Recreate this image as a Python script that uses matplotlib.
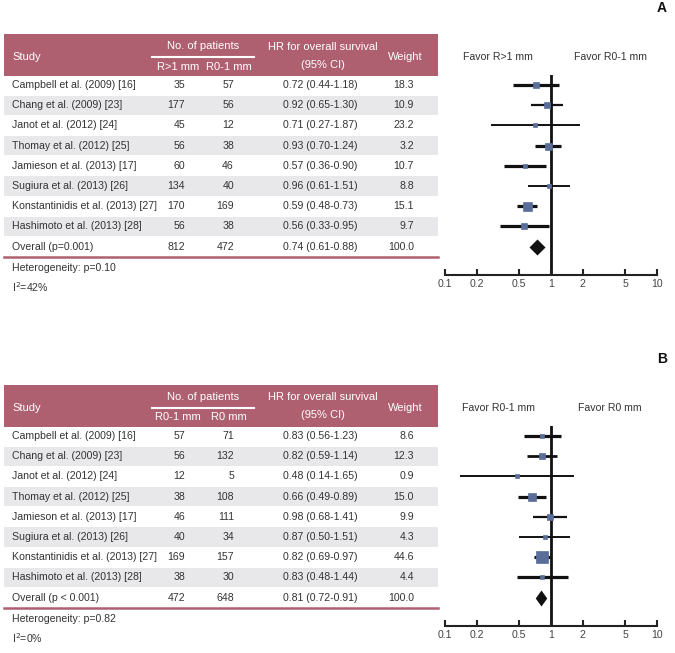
import numpy as np
import matplotlib
matplotlib.use("Agg")
import matplotlib.pyplot as plt

plt.rcParams['font.family'] = ['Liberation Sans Narrow', 'Liberation Sans', 'DejaVu Sans']

# ---- data ----
studies = ["Campbell et al. (2009) [16]", "Chang et al. (2009) [23]", "Janot et al. (2012) [24]",
           "Thomay et al. (2012) [25]", "Jamieson et al. (2013) [17]", "Sugiura et al. (2013) [26]",
           "Konstantinidis et al. (2013) [27]", "Hashimoto et al. (2013) [28]"]

# panel A
a_groups = ["R>1 mm", "R0-1 mm"]
a_n1 = [35, 177, 45, 56, 60, 134, 170, 56, 812]
a_n2 = [57, 56, 12, 38, 46, 40, 169, 38, 472]
a_hr = [0.72, 0.92, 0.71, 0.93, 0.57, 0.96, 0.59, 0.56, 0.74]
a_lo = [0.44, 0.65, 0.27, 0.70, 0.36, 0.61, 0.48, 0.33, 0.61]
a_hi = [1.18, 1.30, 1.87, 1.24, 0.90, 1.51, 0.73, 0.95, 0.88]
a_w = ["18.3", "10.9", "23.2", "3.2", "10.7", "8.8", "15.1", "9.7", "100.0"]
a_overall = "Overall (p=0.001)"
a_het = "Heterogeneity: p=0.10"
a_i2 = "42%"
a_favor = ["Favor R>1 mm", "Favor R0-1 mm"]
a_msize = [6, 5.5, 4.5, 7, 5, 5, 9, 5.5]   # square side, px
a_lw = [2.3, 1.6, 1.4, 2.3, 2.3, 1.4, 2.3, 2.3]

# panel B
b_groups = ["R0-1 mm", "R0 mm"]
b_n1 = [57, 56, 12, 38, 46, 40, 169, 38, 472]
b_n2 = [71, 132, 5, 108, 111, 34, 157, 30, 648]
b_hr = [0.83, 0.82, 0.48, 0.66, 0.98, 0.87, 0.82, 0.83, 0.81]
b_lo = [0.56, 0.59, 0.14, 0.49, 0.68, 0.50, 0.69, 0.48, 0.72]
b_hi = [1.23, 1.14, 1.65, 0.89, 1.41, 1.51, 0.97, 1.44, 0.91]
b_w = ["8.6", "12.3", "0.9", "15.0", "9.9", "4.3", "44.6", "4.4", "100.0"]
b_overall = "Overall (p < 0.001)"
b_het = "Heterogeneity: p=0.82"
b_i2 = "0%"
b_favor = ["Favor R0-1 mm", "Favor R0 mm"]
b_msize = [4.5, 6.5, 3.5, 7.5, 5.5, 5, 12.5, 4.5]
b_lw = [2.3, 2.0, 1.4, 2.3, 1.6, 1.4, 2.3, 2.3]

ticks = [0.1, 0.2, 0.5, 1, 2, 5, 10]
tick_labels = ["0.1", "0.2", "0.5", "1", "2", "5", "10"]

W, H = 675, 653
HEAD = '#AF6070'
SHADE = '#E8E8EA'
MARK = '#5B6E9A'
TXT = '#333333'

fig = plt.figure(figsize=(W / 100, H / 100), dpi=100)
bg = fig.add_axes([0, 0, 1, 1])
bg.set_xlim(0, W)
bg.set_ylim(H, 0)
bg.axis('off')

FS = 7.6
HFS = 8.0


def panel(dy, groups, n1, n2, hr, lo, hi, w, overall, het, i2, favor, msize, lws, dwidth, letter):
    pitch = 20.2
    row0 = 85 + dy
    # header band
    bg.add_patch(plt.Rectangle((4, 34 + dy), 434, 42, color=HEAD, lw=0))
    bg.text(12, 57 + dy, "Study", color='white', fontsize=HFS, va='center')
    bg.text(203, 46 + dy, "No. of patients", color='white', fontsize=HFS, va='center', ha='center')
    bg.plot([152, 254], [56.5 + dy, 56.5 + dy], color='white', lw=1.5)
    bg.text(178, 66.5 + dy, groups[0], color='white', fontsize=HFS, va='center', ha='center')
    bg.text(229, 66.5 + dy, groups[1], color='white', fontsize=HFS, va='center', ha='center')
    bg.text(323, 46.5 + dy, "HR for overall survival", color='white', fontsize=HFS, va='center', ha='center')
    bg.text(323, 64.5 + dy, "(95% CI)", color='white', fontsize=HFS, va='center', ha='center')
    bg.text(405, 57 + dy, "Weight", color='white', fontsize=HFS, va='center', ha='center')

    names = studies + [overall]
    for i, name in enumerate(names):
        y = row0 + i * pitch
        if i % 2 == 1:
            bg.add_patch(plt.Rectangle((4, y - pitch / 2 + 0.5), 434, pitch - 1, color=SHADE, lw=0))
        bg.text(12, y, name, color=TXT, fontsize=FS, va='center')
        bg.text(185, y, str(n1[i]), color=TXT, fontsize=FS, va='center', ha='right')
        bg.text(234, y, str(n2[i]), color=TXT, fontsize=FS, va='center', ha='right')
        bg.text(320, y, f"{hr[i]:.2f} ({lo[i]:.2f}-{hi[i]:.2f})", color=TXT, fontsize=FS, va='center', ha='center')
        bg.text(414, y, w[i], color=TXT, fontsize=FS, va='center', ha='right')
    yline = row0 + 8 * pitch + 10
    bg.plot([4, 438], [yline, yline], color=HEAD, lw=1.8)
    bg.text(12, 268 + dy, het, color=TXT, fontsize=FS, va='center')
    bg.text(12, 287 + dy, r"I$^{2}$=" + i2, color=TXT, fontsize=FS, va='center')
    bg.text(662, 8 + dy, letter, color='#111111', fontsize=10, fontweight='bold', va='center', ha='center')

    # forest plot axes
    top, axis_y = 75 + dy, 275 + dy
    ax = fig.add_axes([445 / W, 1 - axis_y / H, 212 / W, (axis_y - top) / H])
    ax.set_xscale('log')
    ax.set_xlim(0.1, 10)
    ax.set_ylim((axis_y - row0) / pitch, (top - row0) / pitch)
    ax.patch.set_alpha(0)
    for s in ['top', 'right', 'left']:
        ax.spines[s].set_visible(False)
    ax.spines['bottom'].set_linewidth(1.5)
    ax.spines['bottom'].set_color('#222222')
    ax.set_yticks([])
    ax.set_xticks(ticks)
    ax.set_xticklabels(tick_labels)
    ax.minorticks_off()
    ax.tick_params(axis='x', direction='in', length=4, width=1.5, colors='#222222',
                   labelsize=FS, labelcolor='#444444', pad=3)
    ax.axvline(1, color='#111111', lw=2, zorder=1)
    for i in range(8):
        ax.plot([lo[i], hi[i]], [i, i], color='#111111', lw=lws[i], zorder=2, solid_capstyle='butt')
        ax.plot(hr[i], i, marker='s', ms=msize[i] * 0.72, color=MARK, mec=MARK, mew=0.5, zorder=3)
    diamond = [(-dwidth, 0), (0, 1), (dwidth, 0), (0, -1), (-dwidth, 0)]
    ax.plot(hr[8], 8, marker=diamond, ms=16 * 0.72, color='#111111', mew=0, zorder=3)
    bg.text(498, 57 + dy, favor[0], color=TXT, fontsize=FS, va='center', ha='center')
    bg.text(610, 57 + dy, favor[1], color=TXT, fontsize=FS, va='center', ha='center')


panel(0, a_groups, a_n1, a_n2, a_hr, a_lo, a_hi, a_w, a_overall, a_het, a_i2, a_favor,
      a_msize, a_lw, 1.0, "A")
panel(351, b_groups, b_n1, b_n2, b_hr, b_lo, b_hi, b_w, b_overall, b_het, b_i2, b_favor,
      b_msize, b_lw, 0.72, "B")

fig.savefig("out.png", dpi=100)
